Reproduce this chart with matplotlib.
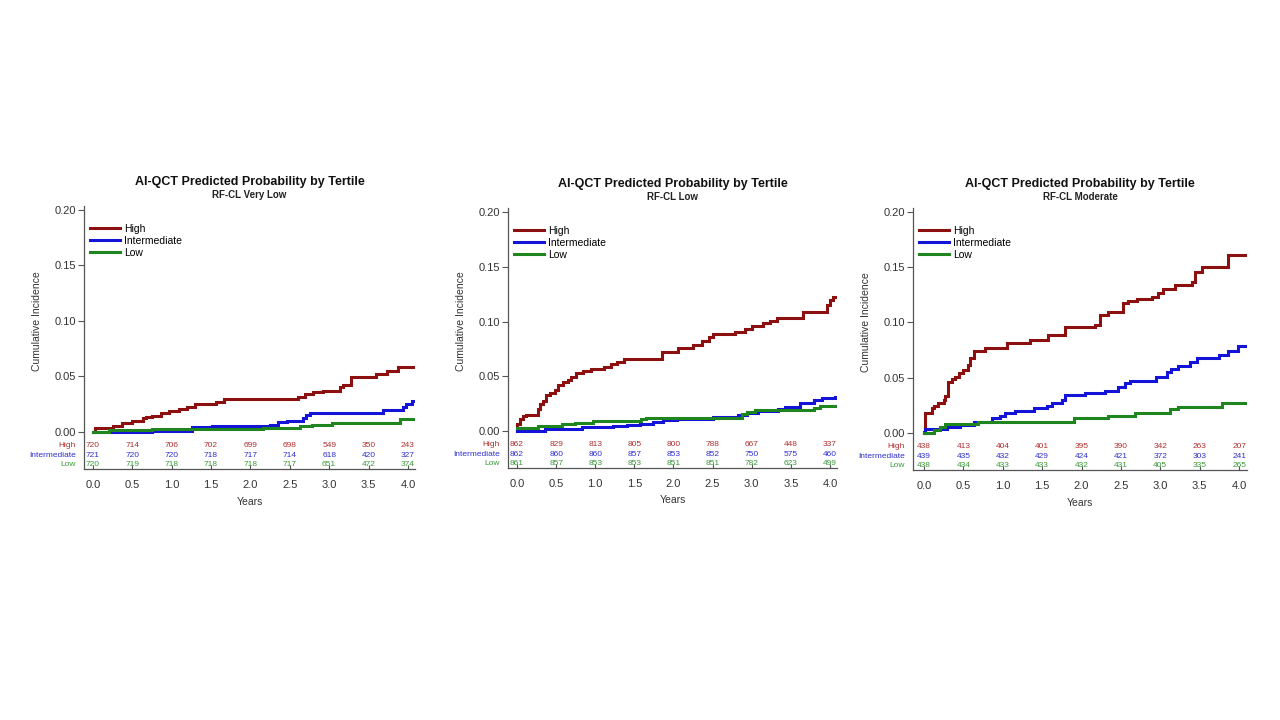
import numpy as np
import matplotlib
matplotlib.use('Agg')
import matplotlib.pyplot as plt
import matplotlib.transforms as mtransforms
from matplotlib.lines import Line2D

plt.rcParams['font.family'] = ['Liberation Sans', 'DejaVu Sans']

RED = '#8c1010'
BLUE = '#1414d8'
GREEN = '#1f861f'
RED_T = '#b03030'
BLUE_T = '#3030d0'
GREEN_T = '#3a9a3a'

groups = ['High', 'Intermediate', 'Low']
subtitles = ['RF-CL Very Low', 'RF-CL Low', 'RF-CL Moderate']
risk_times = [0.0, 0.5, 1.0, 1.5, 2.0, 2.5, 3.0, 3.5, 4.0]

# panel 1: RF-CL Very Low
p1_high_t = [0, 0.02, 0.25, 0.37, 0.50, 0.63, 0.67, 0.75, 0.86, 0.97, 1.09, 1.20, 1.30, 1.56, 1.66,
             2.01, 2.61, 2.69, 2.79, 2.92, 3.14, 3.17, 3.28, 3.60, 3.73, 3.88, 4.09]
p1_high_v = [0, 0.0035, 0.0054, 0.0078, 0.0102, 0.0123, 0.0138, 0.0145, 0.0168, 0.019, 0.021, 0.0225,
             0.025, 0.0267, 0.0294, 0.030, 0.0318, 0.034, 0.036, 0.0372, 0.040, 0.042, 0.049, 0.052,
             0.055, 0.0588, 0.0588]
p1_int_t = [0, 0.75, 1.26, 1.51, 2.25, 2.35, 2.46, 2.67, 2.71, 2.76, 3.69, 3.94, 3.98, 4.05, 4.06]
p1_int_v = [0, 0.001, 0.0042, 0.0056, 0.0066, 0.0093, 0.010, 0.0123, 0.0153, 0.0174, 0.0198, 0.0222,
            0.025, 0.028, 0.028]
p1_low_t = [0, 0.20, 0.75, 2.16, 2.63, 2.78, 3.03, 3.90, 4.09]
p1_low_v = [0, 0.0018, 0.0027, 0.0035, 0.0054, 0.0062, 0.0084, 0.0114, 0.0114]

# panel 2: RF-CL Low
p2_high_t = [0, 0.005, 0.04, 0.08, 0.12, 0.27, 0.29, 0.33, 0.37, 0.42, 0.48, 0.52, 0.59, 0.65, 0.69,
             0.75, 0.84, 0.94, 1.11, 1.20, 1.28, 1.37, 1.85, 2.06, 2.25, 2.36, 2.45, 2.51, 2.79, 2.91,
             3.00, 3.15, 3.23, 3.32, 3.66, 3.96, 4.00, 4.04, 4.09]
p2_high_v = [0, 0.007, 0.0116, 0.0137, 0.0152, 0.0207, 0.0253, 0.0274, 0.0329, 0.035, 0.0374, 0.042,
             0.045, 0.047, 0.0496, 0.0527, 0.055, 0.057, 0.0587, 0.061, 0.063, 0.0657, 0.0719, 0.076,
             0.0785, 0.0825, 0.0856, 0.089, 0.0907, 0.093, 0.096, 0.099, 0.101, 0.1035, 0.109, 0.115,
             0.12, 0.122, 0.122]
p2_int_t = [0, 0.36, 0.83, 1.23, 1.40, 1.57, 1.74, 1.87, 2.04, 2.51, 2.83, 2.94, 3.08, 3.34, 3.42,
            3.62, 3.79, 3.90, 4.06, 4.09]
p2_int_v = [0, 0.0024, 0.0035, 0.0045, 0.0055, 0.007, 0.0085, 0.010, 0.011, 0.013, 0.0152, 0.017,
            0.0185, 0.0207, 0.022, 0.026, 0.0283, 0.0305, 0.031, 0.031]
p2_low_t = [0, 0.27, 0.57, 0.74, 0.97, 1.59, 1.65, 2.51, 2.87, 2.94, 3.04, 3.79, 3.87, 4.09]
p2_low_v = [0.0034, 0.0046, 0.0064, 0.0076, 0.009, 0.0116, 0.012, 0.0125, 0.016, 0.018, 0.0198,
            0.0216, 0.0228, 0.0228]

# panel 3: RF-CL Moderate
p3_high_t = [0, 0.01, 0.10, 0.12, 0.18, 0.25, 0.27, 0.31, 0.35, 0.39, 0.44, 0.50, 0.56, 0.58, 0.63,
             0.77, 1.05, 1.35, 1.58, 1.79, 2.17, 2.23, 2.34, 2.53, 2.59, 2.70, 2.89, 2.97, 3.04, 3.19,
             3.40, 3.44, 3.53, 3.86, 4.10]
p3_high_v = [0.001, 0.0178, 0.0223, 0.0244, 0.0268, 0.0299, 0.0335, 0.0465, 0.0486, 0.051, 0.054,
             0.057, 0.0615, 0.0676, 0.0745, 0.0772, 0.0817, 0.084, 0.0887, 0.0956, 0.0977, 0.1068,
             0.1098, 0.1173, 0.1197, 0.1213, 0.1234, 0.1264, 0.130, 0.134, 0.137, 0.146, 0.150, 0.161,
             0.161]
p3_int_t = [0, 0.01, 0.29, 0.46, 0.63, 0.86, 0.97, 1.03, 1.16, 1.39, 1.56, 1.62, 1.75, 1.79, 2.04,
            2.30, 2.46, 2.55, 2.62, 2.95, 3.08, 3.14, 3.23, 3.38, 3.46, 3.74, 3.86, 3.99, 4.10]
p3_int_v = [0, 0.004, 0.0057, 0.0072, 0.0102, 0.0133, 0.0154, 0.0178, 0.0202, 0.0223, 0.0244, 0.0268,
            0.0299, 0.0344, 0.0359, 0.0383, 0.0413, 0.045, 0.0473, 0.0504, 0.055, 0.0579, 0.0609,
            0.064, 0.0676, 0.0706, 0.0742, 0.0787, 0.0787]
p3_low_t = [0, 0.12, 0.20, 0.27, 0.69, 1.90, 2.34, 2.68, 3.12, 3.23, 3.78, 4.10]
p3_low_v = [0, 0.0027, 0.0057, 0.0081, 0.0102, 0.0136, 0.0157, 0.0184, 0.0214, 0.0238, 0.0268, 0.0268]

p1_risk = [[720, 714, 706, 702, 699, 698, 549, 350, 243],
           [721, 720, 720, 718, 717, 714, 618, 420, 327],
           [720, 719, 718, 718, 718, 717, 651, 472, 374]]
p2_risk = [[862, 829, 813, 805, 800, 788, 667, 448, 337],
           [862, 860, 860, 857, 853, 852, 750, 575, 460],
           [861, 857, 853, 853, 851, 851, 782, 623, 499]]
p3_risk = [[438, 413, 404, 401, 395, 390, 342, 263, 207],
           [439, 435, 432, 429, 424, 421, 372, 303, 241],
           [438, 434, 433, 433, 432, 431, 405, 335, 265]]

panels = [
    ([p1_high_t, p1_int_t, p1_low_t], [p1_high_v, p1_int_v, p1_low_v], p1_risk,
     [0.0656, 0.3486, 0.2586, 0.3653], (-0.114, 4.09)),
    ([p2_high_t, p2_int_t, p2_low_t], [p2_high_v, p2_int_v, p2_low_v], p2_risk,
     [0.3969, 0.3500, 0.2570, 0.3611], (-0.115, 4.09)),
    ([p3_high_t, p3_int_t, p3_low_t], [p3_high_v, p3_int_v, p3_low_v], p3_risk,
     [0.7133, 0.3472, 0.2609, 0.3639], (-0.14, 4.10)),
]

line_cols = [RED, BLUE, GREEN]
text_cols = [RED_T, BLUE_T, GREEN_T]
row_y = [-0.012, -0.021, -0.0295]

fig = plt.figure(figsize=(12.8, 7.2), dpi=100)

for i, (ts, vs, risk, pos, xl) in enumerate(panels):
    ax = fig.add_axes(pos)
    for t, v, c in zip(ts, vs, line_cols):
        ax.step(t, v, where='post', color=c, lw=2.2, solid_joinstyle='miter')
    ax.set_xlim(*xl)
    ax.set_ylim(-0.0335, 0.2036)
    ax.spines['top'].set_visible(False)
    ax.spines['right'].set_visible(False)
    for s in ['left', 'bottom']:
        ax.spines[s].set_color('#555555')
        ax.spines[s].set_linewidth(0.9)
    ax.set_yticks([0.0, 0.05, 0.10, 0.15, 0.20])
    ax.set_yticklabels(['0.00', '0.05', '0.10', '0.15', '0.20'])
    ax.set_xticks(risk_times)
    ax.set_xticklabels(['%.1f' % x for x in risk_times])
    ax.tick_params(axis='y', direction='out', length=4, width=0.8, pad=2,
                   labelsize=8, colors='#555555', labelcolor='#333333')
    ax.tick_params(axis='x', direction='in', length=3, width=0.8, pad=8,
                   labelsize=8, colors='#555555', labelcolor='#333333')

    trans = mtransforms.blended_transform_factory(ax.transAxes, ax.transData)
    ax.text(-0.142, 0.10, 'Cumulative Incidence', transform=trans, rotation=90,
            ha='center', va='center', fontsize=7.5, color='#333333')
    ax.text(0.5, -0.125, 'Years', transform=ax.transAxes, ha='center', va='center',
            fontsize=7.5, color='#333333')
    ax.text(0.5, 1.092, 'AI-QCT Predicted Probability by Tertile', transform=ax.transAxes,
            ha='center', va='center', fontsize=9, fontweight='bold', color='#111111')
    ax.text(0.5, 1.042, subtitles[i], transform=ax.transAxes,
            ha='center', va='center', fontsize=7, fontweight='bold', color='#222222')

    for r, (row, g, c) in enumerate(zip(risk, groups, text_cols)):
        ax.text(-0.025, row_y[r], g, transform=trans, ha='right', va='center',
                fontsize=6, color=c)
        for t, n in zip(risk_times, row):
            ax.text(t, row_y[r], str(n), ha='center', va='center', fontsize=6, color=c)

    handles = [Line2D([], [], color=c, lw=2.2) for c in line_cols]
    ax.legend(handles, groups, loc='upper left', bbox_to_anchor=(0.012, 0.94),
              frameon=False, fontsize=7.5, handlelength=2.9, handletextpad=0.4,
              labelspacing=0.2, borderaxespad=0.0, borderpad=0.2)

fig.savefig('out.png', dpi=100, facecolor='white')
